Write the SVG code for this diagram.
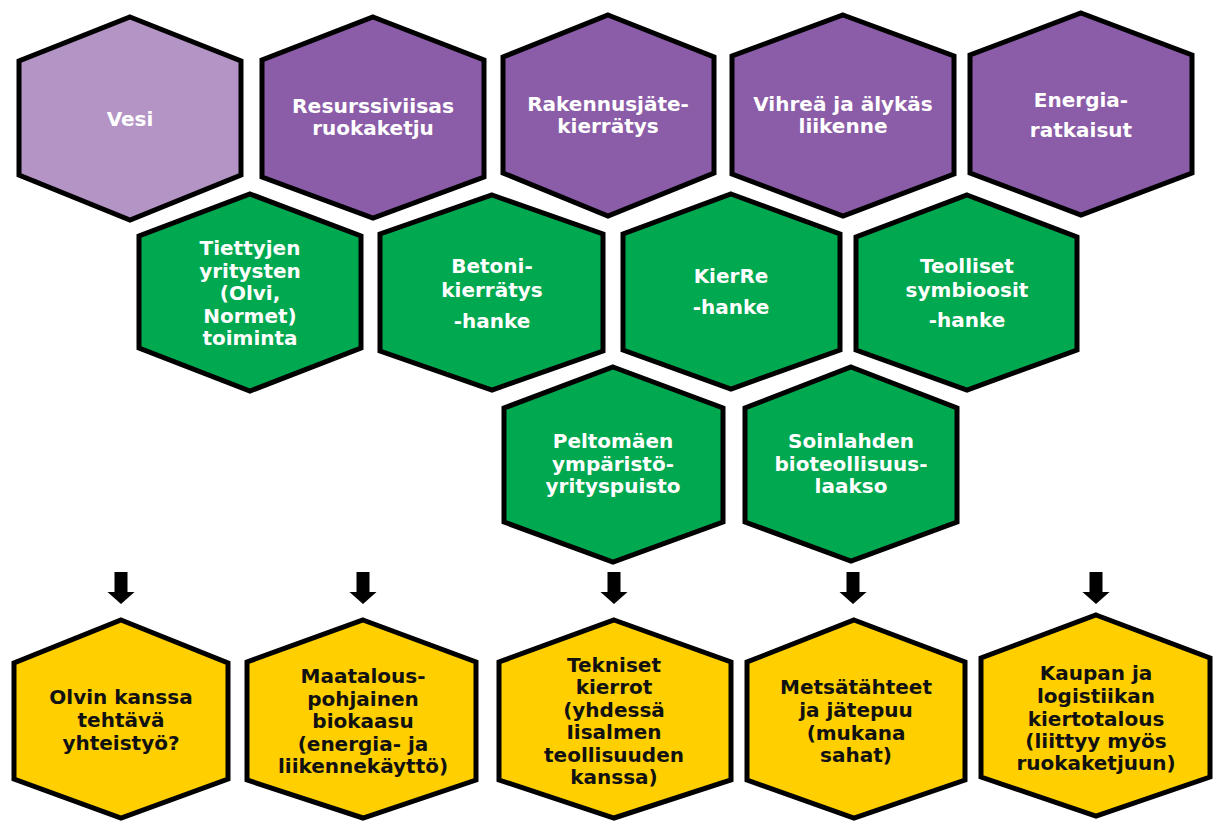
<svg xmlns="http://www.w3.org/2000/svg" width="1216" height="823" viewBox="0 0 1216 823">
<style>
.hex{stroke:#000;stroke-width:5;stroke-linejoin:miter}
.lp{fill:#B394C5}
.pu{fill:#8B5CA7}
.gr{fill:#00A84F}
.ye{fill:#FFCF00}
text{font-family:"DejaVu Sans","Liberation Sans",sans-serif;font-weight:bold;font-size:20px;text-anchor:middle}
.w{fill:#fff}
.b{fill:#111}
.arr{fill:#000}
</style>
<rect width="1216" height="823" fill="#fff"/>
<g id="connectors">
<path class="arr" d="M114.5,572h13v20h7l-13.5,12l-13.5,-12h7z"/>
<path class="arr" d="M356.5,572h13v20h7l-13.5,12l-13.5,-12h7z"/>
<path class="arr" d="M607.5,572h13v20h7l-13.5,12l-13.5,-12h7z"/>
<path class="arr" d="M846.5,572h13v20h7l-13.5,12l-13.5,-12h7z"/>
<path class="arr" d="M1089.5,572h13v20h7l-13.5,12l-13.5,-12h7z"/>
</g>
<g id="vesi"><polygon class="hex lp" points="130,17 241,61 241,175 130,220 19,175 19,61"/><text class="w" x="130" y="126">Vesi</text></g>
<g id="ruokaketju"><polygon class="hex pu" points="373,17 484,60 484,177 373,218 262,177 262,60"/><text class="w" x="373" y="113" textLength="162" lengthAdjust="spacingAndGlyphs">Resurssiviisas</text><text class="w" x="373" y="135">ruokaketju</text></g>
<g id="rakennusjate"><polygon class="hex pu" points="608,15 714,57 714,173 608,216 503,173 503,57"/><text class="w" x="608" y="111">Rakennusjäte-</text><text class="w" x="608" y="133">kierrätys</text></g>
<g id="liikenne"><polygon class="hex pu" points="843,15 954,56 954,174 843,216 732,174 732,56"/><text class="w" x="843" y="111">Vihreä ja älykäs</text><text class="w" x="843" y="133">liikenne</text></g>
<g id="energia"><polygon class="hex pu" points="1081,13 1192,55 1192,173 1081,215 970,173 970,55"/><text class="w" x="1081" y="107">Energia-</text><text class="w" x="1081" y="137">ratkaisut</text></g>
<g id="tiettyjen"><polygon class="hex gr" points="250,194 361,236 361,348 250,391 139,348 139,236"/><text class="w" x="250" y="255">Tiettyjen</text><text class="w" x="250" y="277.5">yritysten</text><text class="w" x="250" y="300">(Olvi,</text><text class="w" x="250" y="322.5">Normet)</text><text class="w" x="250" y="345">toiminta</text></g>
<g id="betoni"><polygon class="hex gr" points="492,195 603,234 603,351 492,390 380,351 380,234"/><text class="w" x="492" y="273">Betoni-</text><text class="w" x="492" y="297">kierrätys</text><text class="w" x="492" y="328">-hanke</text></g>
<g id="kierre"><polygon class="hex gr" points="731,194 840,234 840,350 731,389 623,350 623,234"/><text class="w" x="731" y="283">KierRe</text><text class="w" x="731" y="314">-hanke</text></g>
<g id="symbioosit"><polygon class="hex gr" points="967,195 1077,237 1077,350 967,390 856,350 856,237"/><text class="w" x="967" y="273">Teolliset</text><text class="w" x="967" y="297">symbioosit</text><text class="w" x="967" y="327">-hanke</text></g>
<g id="peltomaki"><polygon class="hex gr" points="613,367 723,408 723,522 613,562 504,522 504,408"/><text class="w" x="613" y="448">Peltomäen</text><text class="w" x="613" y="471">ympäristö-</text><text class="w" x="613" y="493">yrityspuisto</text></g>
<g id="soinlahti"><polygon class="hex gr" points="851,367 957,408 957,522 851,561 745,522 745,408"/><text class="w" x="851" y="448">Soinlahden</text><text class="w" x="851" y="471">bioteollisuus-</text><text class="w" x="851" y="493">laakso</text></g>
<g id="olvi"><polygon class="hex ye" points="121,620 228,663 228,779 121,818 14,779 14,663"/><text class="b" x="121" y="704">Olvin kanssa</text><text class="b" x="121" y="727">tehtävä</text><text class="b" x="121" y="750">yhteistyö?</text></g>
<g id="biokaasu"><polygon class="hex ye" points="363,620 476,662 476,780 363,818 247,780 247,662"/><text class="b" x="363" y="683">Maatalous-</text><text class="b" x="363" y="706">pohjainen</text><text class="b" x="363" y="728">biokaasu</text><text class="b" x="363" y="751">(energia- ja</text><text class="b" x="363" y="773">liikennekäyttö)</text></g>
<g id="tekniset"><polygon class="hex ye" points="614,620 731,662 731,780 614,818 499,780 499,662"/><text class="b" x="614" y="672">Tekniset</text><text class="b" x="614" y="694">kierrot</text><text class="b" x="614" y="717">(yhdessä</text><text class="b" x="614" y="739">Iisalmen</text><text class="b" x="614" y="762">teollisuuden</text><text class="b" x="614" y="784">kanssa)</text></g>
<g id="metsa"><polygon class="hex ye" points="854,620 965,662 965,780 854,818 747,780 747,662"/><text class="b" x="856" y="694">Metsätähteet</text><text class="b" x="856" y="717">ja jätepuu</text><text class="b" x="856" y="740">(mukana</text><text class="b" x="856" y="762">sahat)</text></g>
<g id="kauppa"><polygon class="hex ye" points="1096,615 1210,658 1210,777 1096,816 981,777 981,658"/><text class="b" x="1096" y="680">Kaupan ja</text><text class="b" x="1096" y="703">logistiikan</text><text class="b" x="1096" y="726">kiertotalous</text><text class="b" x="1096" y="748">(liittyy myös</text><text class="b" x="1096" y="770">ruokaketjuun)</text></g>
</svg>
